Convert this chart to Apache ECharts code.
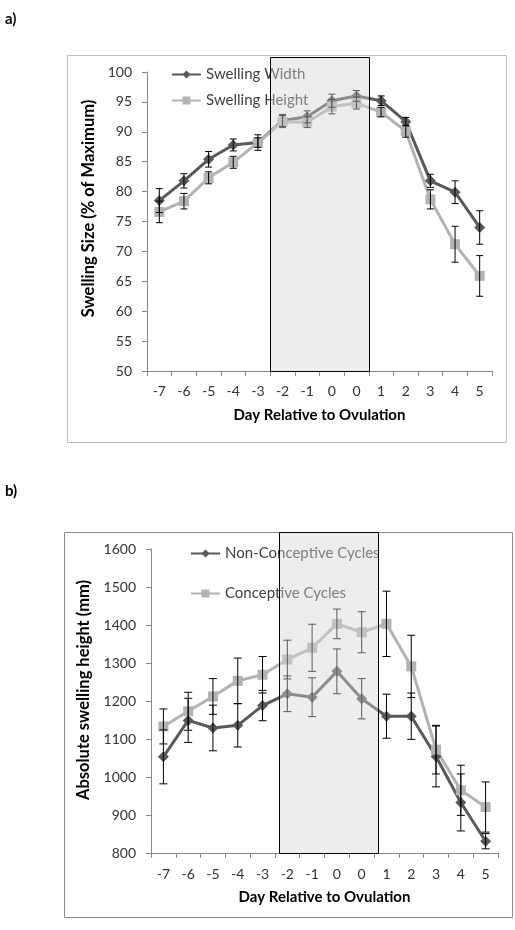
<!DOCTYPE html>
<html>
<head>
<meta charset="utf-8">
<script src="https://cdn.jsdelivr.net/npm/echarts@6/dist/echarts.min.js"></script>
<style>
html,body{margin:0;padding:0;background:#fff;}
#c{width:515px;height:930px;}
</style>
</head>
<body>
<div id="c"></div>
<script>
// ---- data ----
const days = ['-7','-6','-5','-4','-3','-2','-1','0','0','1','2','3','4','5'];

// Panel a) swelling size (% of maximum)
const widthVals  = [78.5, 81.8, 85.4, 87.8, 88.2, 91.9, 92.5, 95.2, 96.0, 95.2, 91.7, 81.8, 79.9, 74.0];
const widthErr   = [2.0, 1.2, 1.3, 1.0, 1.3, 1.0, 1.0, 1.1, 0.9, 0.8, 0.7, 1.1, 1.9, 2.8];
const heightVals = [76.6, 78.4, 82.3, 84.9, 88.2, 91.7, 91.6, 94.2, 94.8, 93.3, 90.1, 78.7, 71.2, 65.9];
const heightErr  = [1.8, 1.3, 1.0, 1.0, 0.8, 1.0, 0.9, 1.2, 1.0, 0.8, 1.0, 1.6, 3.0, 3.4];

// Panel b) absolute swelling height (mm)
const nonConc    = [1053, 1149, 1129, 1136, 1188, 1219, 1210, 1278, 1206, 1160, 1160, 1054, 933, 831];
const nonConcErr = [71, 58, 60, 57, 40, 47, 51, 59, 53, 58, 61, 80, 75, 20];
const conc       = [1133, 1173, 1212, 1253, 1269, 1309, 1340, 1403, 1381, 1403, 1291, 1072, 965, 921];
const concErr    = [46, 50, 47, 60, 48, 51, 62, 39, 54, 86, 82, 64, 66, 66];

// shaded periacme window (in category-index units)
const shadeA = [4.5, 8.5];
const shadeB = [4.65, 8.65];

const FONT = 'Lato';
const DARK = '#595959';
const LIGHT = '#b3b3b3';

const chart = echarts.init(document.getElementById('c'), null, {renderer:'canvas'});

function errData(vals, errs){ return vals.map((v,i)=>[i, v, errs[i]]); }
function errSeries(name, xi, yi, vals, errs, cap){
  return {
    name: name, type:'custom', xAxisIndex:xi, yAxisIndex:yi, z:4,
    encode:{x:0, y:1},
    data: errData(vals, errs),
    renderItem: function(params, api){
      const i = api.value(0), v = api.value(1), e = api.value(2);
      const t = api.coord([i, v+e]), b = api.coord([i, v-e]);
      const st = {stroke:'#000', lineWidth:1, fill:null};
      return {type:'group', children:[
        {type:'line', shape:{x1:t[0], y1:t[1], x2:b[0], y2:b[1]}, style:st},
        {type:'line', shape:{x1:t[0]-cap, y1:t[1], x2:t[0]+cap, y2:t[1]}, style:st},
        {type:'line', shape:{x1:b[0]-cap, y1:b[1], x2:b[0]+cap, y2:b[1]}, style:st}
      ]};
    }
  };
}
function lineSeries(name, xi, yi, vals, color, symbol, size){
  return {name:name, type:'line', xAxisIndex:xi, yAxisIndex:yi, data:vals, z:3,
    symbol:symbol, symbolSize:size, showSymbol:true,
    lineStyle:{color:color, width:3}, itemStyle:{color:color, borderWidth:0},
    emphasis:{disabled:true}};
}

const axisLineStyle = {lineStyle:{color:'#868686', width:1}};
const labelStyle = {color:'#333', fontFamily:FONT, fontSize:13};
const plain = v => String(v);

const option = {
  animation:false,
  textStyle:{fontFamily:FONT},
  grid:[
    {left:147, top:72, right:23, bottom:559},
    {left:151, top:549, right:17, bottom:77}
  ],
  legend:[
    {data:['Swelling Width','Swelling Height'], orient:'vertical', left:166, top:62,
     itemWidth:29, itemHeight:10, itemGap:11, selectedMode:false,
     textStyle:{color:'#404040', fontFamily:FONT, fontSize:15}},
    {data:['Non-Conceptive Cycles','Conceptive Cycles'], orient:'vertical', left:185, top:541,
     itemWidth:29, itemHeight:10, itemGap:25, selectedMode:false,
     textStyle:{color:'#404040', fontFamily:FONT, fontSize:15}}
  ],
  xAxis:[
    {type:'category', gridIndex:0, data:days, boundaryGap:true,
     axisLine:axisLineStyle, axisTick:{show:true, length:5, lineStyle:{color:'#868686'}},
     axisLabel:Object.assign({interval:0, margin:13}, labelStyle, {fontSize:14}),
     name:'Day Relative to Ovulation', nameLocation:'middle', nameGap:37,
     nameTextStyle:{fontFamily:FONT, fontWeight:'bold', fontSize:15, color:'#000'}},
    {type:'category', gridIndex:1, data:days, boundaryGap:true,
     axisLine:axisLineStyle, axisTick:{show:true, length:5, lineStyle:{color:'#868686'}},
     axisLabel:Object.assign({interval:0, margin:14}, labelStyle, {fontSize:14}),
     name:'Day Relative to Ovulation', nameLocation:'middle', nameGap:37,
     nameTextStyle:{fontFamily:FONT, fontWeight:'bold', fontSize:15, color:'#000'}}
  ],
  yAxis:[
    {type:'value', gridIndex:0, min:50, max:100, interval:5,
     axisLine:Object.assign({show:true}, axisLineStyle),
     axisTick:{show:true, length:5, lineStyle:{color:'#868686'}},
     splitLine:{show:false},
     axisLabel:Object.assign({margin:15, formatter:plain}, labelStyle, {fontSize:14}),
     name:'Swelling Size (% of Maximum)', nameLocation:'middle', nameGap:45,
     nameTextStyle:{fontFamily:FONT, fontWeight:'bold', fontSize:16.5, color:'#000', padding:[0,0,0,26]}},
    {type:'value', gridIndex:1, min:800, max:1600, interval:100,
     axisLine:Object.assign({show:true}, axisLineStyle),
     axisTick:{show:true, length:5, lineStyle:{color:'#868686'}},
     splitLine:{show:false},
     axisLabel:Object.assign({margin:15, formatter:plain}, labelStyle, {fontSize:14}),
     name:'Absolute swelling height (mm)', nameLocation:'middle', nameGap:50,
     nameTextStyle:{fontFamily:FONT, fontWeight:'bold', fontSize:16.5, color:'#000', padding:[0,0,0,22]}}
  ],
  series:[
    lineSeries('Swelling Width', 0, 0, widthVals, DARK, 'diamond', 11),
    lineSeries('Swelling Height', 0, 0, heightVals, LIGHT, 'rect', 10),
    errSeries('errW', 0, 0, widthVals, widthErr, 3.5),
    errSeries('errH', 0, 0, heightVals, heightErr, 3.5),
    lineSeries('Non-Conceptive Cycles', 1, 1, nonConc, DARK, 'diamond', 11),
    lineSeries('Conceptive Cycles', 1, 1, conc, LIGHT, 'rect', 10),
    errSeries('errN', 1, 1, nonConc, nonConcErr, 4),
    errSeries('errC', 1, 1, conc, concErr, 4)
  ]
};
chart.setOption(option);

function shadeRect(id, xi, yi, range, yMin, topPx){
  const c0 = chart.convertToPixel({xAxisIndex:xi}, 0);
  const c1 = chart.convertToPixel({xAxisIndex:xi}, 1);
  const bw = c1 - c0;
  const x0 = c0 + range[0]*bw, x1 = c0 + range[1]*bw;
  const yb = chart.convertToPixel({yAxisIndex:yi}, yMin);
  return {type:'rect', id:id, z:100, silent:true,
    shape:{x:Math.round(x0)+0.5, y:topPx+0.5, width:Math.round(x1-x0), height:Math.round(yb-topPx)},
    style:{fill:'rgba(211,211,211,0.42)', stroke:'#000', lineWidth:1}};
}

chart.setOption({
  graphic:[
    {type:'rect', id:'boxA', z:-1, silent:true, shape:{x:67.5, y:55.5, width:439, height:387},
     style:{fill:'none', stroke:'#bfbfbf', lineWidth:1}},
    {type:'rect', id:'boxB', z:-1, silent:true, shape:{x:64.5, y:532.5, width:448, height:385},
     style:{fill:'none', stroke:'#8c8c8c', lineWidth:1}},
    {type:'text', id:'labA', left:5, top:12, style:{text:'a)', font:'bold 15px '+FONT, fill:'#000'}},
    {type:'text', id:'labB', left:5, top:484, style:{text:'b)', font:'bold 15px '+FONT, fill:'#000'}},
    shadeRect('shA', 0, 0, shadeA, 50, 57),
    shadeRect('shB', 1, 1, shadeB, 800, 532)
  ]
});
</script>
</body>
</html>
